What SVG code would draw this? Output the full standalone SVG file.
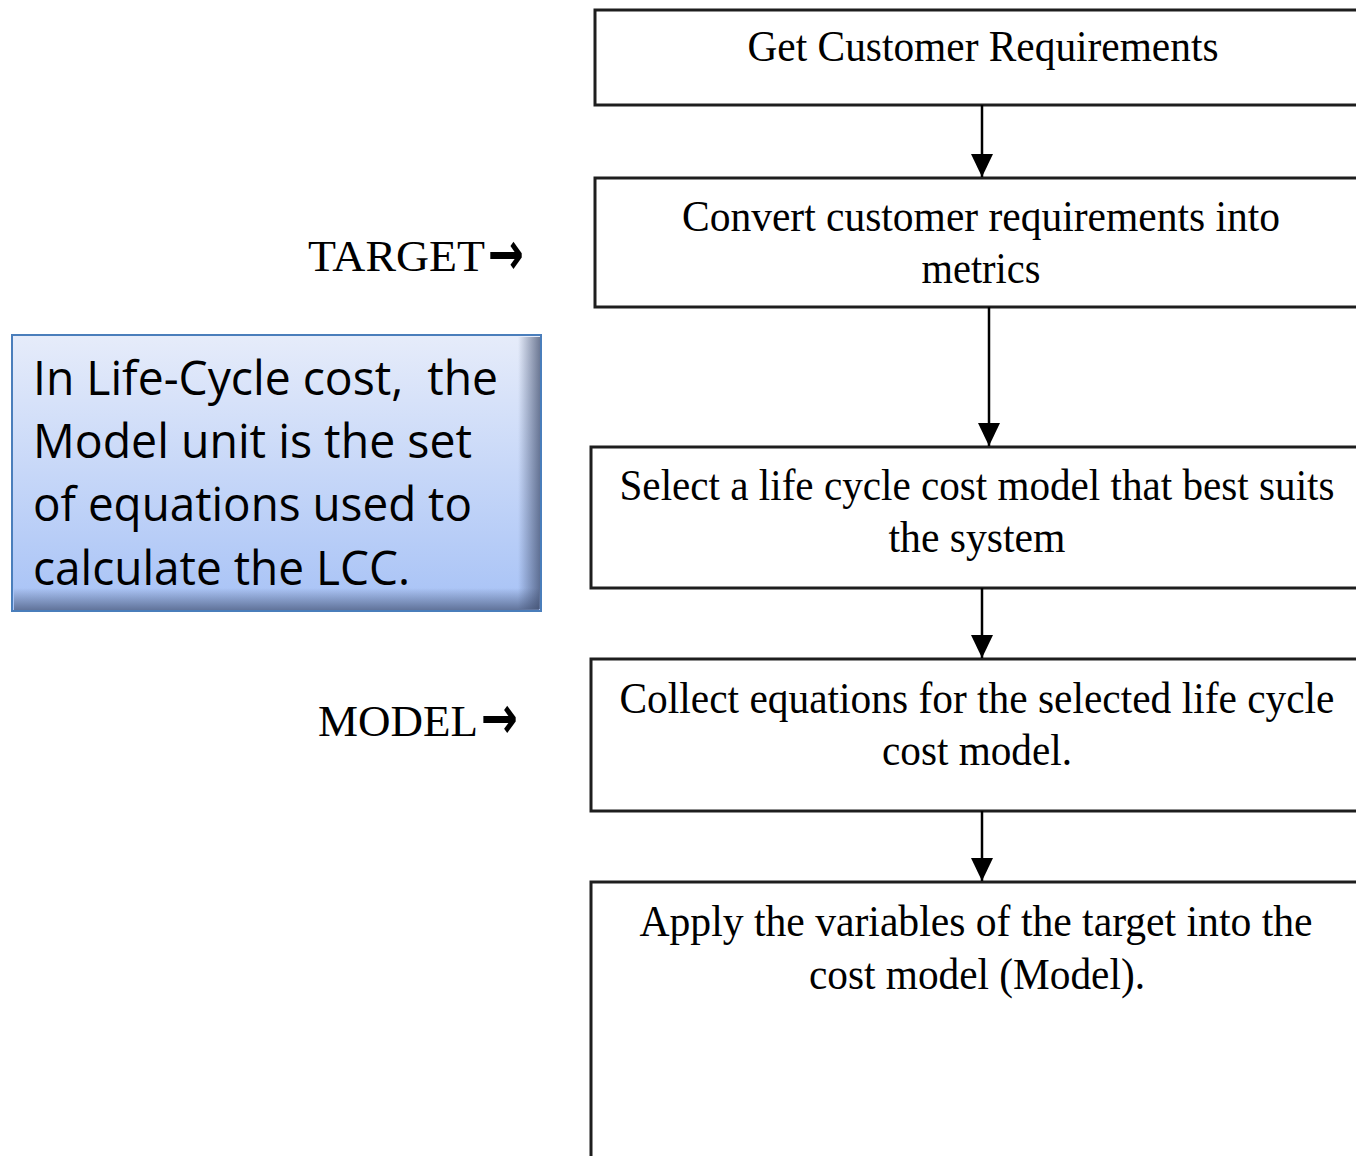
<svg xmlns="http://www.w3.org/2000/svg" width="1356" height="1156" viewBox="0 0 1356 1156">
  <style>
    .step { fill: #ffffff; stroke: #1e1e1e; stroke-width: 3; }
    .step-text { font-family: "Liberation Serif", "Times New Roman", serif; font-size: 44px; fill: #000000; text-anchor: middle; }
    .side-label { font-family: "Liberation Serif", "Times New Roman", serif; font-size: 44px; fill: #000000; }
    .side-arrow { font-family: "DejaVu Sans", sans-serif; font-weight: bold; font-size: 60px; fill: #000000; }
    .link { stroke: #000000; stroke-width: 2.5; fill: none; marker-end: url(#head); }
    .note-text { font-family: "Open Sans", "Liberation Sans", sans-serif; font-size: 48px; fill: #000000; }
  </style>
  <defs>
    <marker id="head" viewBox="0 0 23 22" refX="23" refY="11" markerWidth="23" markerHeight="22" markerUnits="userSpaceOnUse" orient="auto">
      <path d="M0 0 L23 11 L0 22 Z" fill="#000000"/>
    </marker>
    <linearGradient id="noteFill" x1="0" y1="0" x2="0" y2="1">
      <stop offset="0" stop-color="#e6ecfa"/>
      <stop offset="1" stop-color="#a7c2f6"/>
    </linearGradient>
    <linearGradient id="noteShadeRight" x1="0" y1="0" x2="1" y2="0">
      <stop offset="0" stop-color="#3c4a6a" stop-opacity="0"/>
      <stop offset="1" stop-color="#3c4a6a" stop-opacity="0.7"/>
    </linearGradient>
    <linearGradient id="noteShadeBottom" x1="0" y1="0" x2="0" y2="1">
      <stop offset="0" stop-color="#3c4a6a" stop-opacity="0"/>
      <stop offset="1" stop-color="#3c4a6a" stop-opacity="0.65"/>
    </linearGradient>
  </defs>

  <rect width="1356" height="1156" fill="#ffffff"/>

  <!-- Flow of steps -->
  <g id="step-requirements">
    <rect class="step" x="595" y="10" width="780" height="95"/>
    <text class="step-text" x="983" y="61" textLength="471" lengthAdjust="spacingAndGlyphs">Get Customer Requirements</text>
  </g>

  <g id="step-metrics">
    <rect class="step" x="595" y="178" width="780" height="129"/>
    <text class="step-text" x="981" y="231" textLength="598" lengthAdjust="spacingAndGlyphs">Convert customer requirements into</text>
    <text class="step-text" x="981" y="283" textLength="119" lengthAdjust="spacingAndGlyphs">metrics</text>
  </g>

  <g id="step-select-model">
    <rect class="step" x="591" y="447" width="784" height="141"/>
    <text class="step-text" x="977" y="500" textLength="715" lengthAdjust="spacingAndGlyphs">Select a life cycle cost model that best suits</text>
    <text class="step-text" x="977" y="552" textLength="177" lengthAdjust="spacingAndGlyphs">the system</text>
  </g>

  <g id="step-equations">
    <rect class="step" x="591" y="659" width="784" height="152"/>
    <text class="step-text" x="977" y="713" textLength="715" lengthAdjust="spacingAndGlyphs">Collect equations for the selected life cycle</text>
    <text class="step-text" x="977" y="765" textLength="190" lengthAdjust="spacingAndGlyphs">cost model.</text>
  </g>

  <g id="step-apply">
    <rect class="step" x="591" y="882" width="784" height="300"/>
    <text class="step-text" x="976" y="936" textLength="673" lengthAdjust="spacingAndGlyphs">Apply the variables of the target into the</text>
    <text class="step-text" x="977" y="989" textLength="336" lengthAdjust="spacingAndGlyphs">cost model (Model).</text>
  </g>

  <!-- Connectors between steps -->
  <g id="connectors">
    <line class="link" x1="982" y1="105" x2="982" y2="177"/>
    <line class="link" x1="989" y1="307" x2="989" y2="446"/>
    <line class="link" x1="982" y1="588" x2="982" y2="658"/>
    <line class="link" x1="982" y1="811" x2="982" y2="881"/>
  </g>

  <!-- Side labels -->
  <g id="label-target">
    <text class="side-label" x="308" y="271" textLength="177" lengthAdjust="spacingAndGlyphs">TARGET</text>
    <text class="side-arrow" x="488" y="274" textLength="36" lengthAdjust="spacingAndGlyphs">→</text>
  </g>
  <g id="label-model">
    <text class="side-label" x="318" y="736" textLength="160" lengthAdjust="spacingAndGlyphs">MODEL</text>
    <text class="side-arrow" x="481" y="738" textLength="37" lengthAdjust="spacingAndGlyphs">→</text>
  </g>

  <!-- Explanatory note -->
  <g id="note">
    <rect x="12" y="335" width="529" height="276" fill="url(#noteFill)"/>
    <rect x="518" y="337" width="22" height="272" fill="url(#noteShadeRight)"/>
    <rect x="14" y="588" width="525" height="22" fill="url(#noteShadeBottom)"/>
    <rect x="12" y="335" width="529" height="276" fill="none" stroke="#4a7ebb" stroke-width="2"/>
    <text class="note-text" x="33" y="395" xml:space="preserve" textLength="465" lengthAdjust="spacingAndGlyphs">In Life-Cycle cost,  the</text>
    <text class="note-text" x="33" y="458" textLength="439" lengthAdjust="spacingAndGlyphs">Model unit is the set</text>
    <text class="note-text" x="33" y="521" textLength="439" lengthAdjust="spacingAndGlyphs">of equations used to</text>
    <text class="note-text" x="33" y="585" textLength="377" lengthAdjust="spacingAndGlyphs">calculate the LCC.</text>
  </g>
</svg>
